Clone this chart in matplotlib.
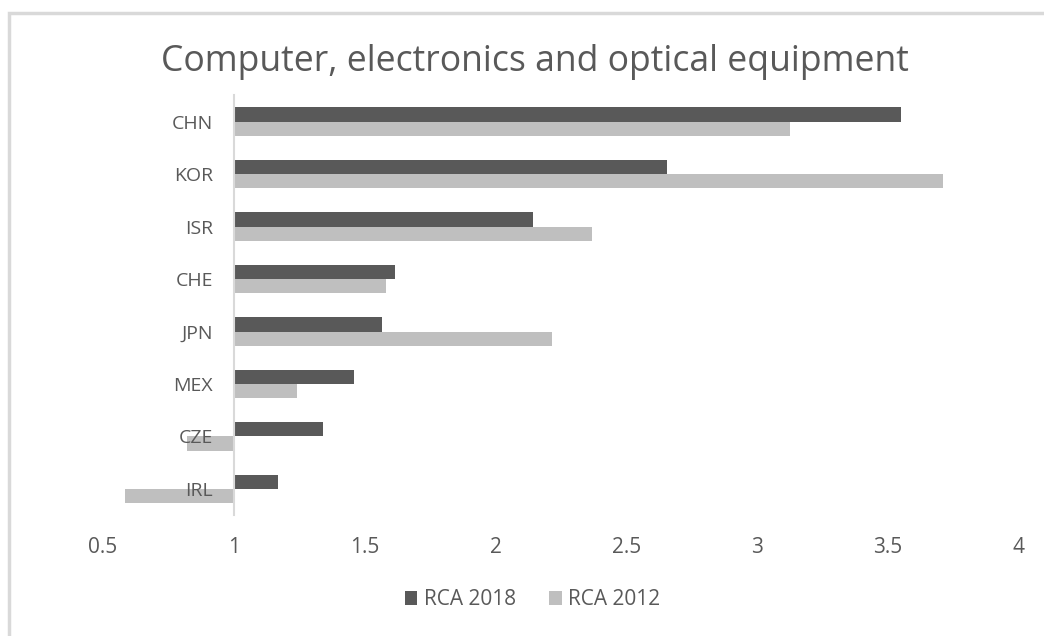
import matplotlib.pyplot as plt
from matplotlib.patches import Rectangle
import numpy as np

# RCA by country, computer/electronics/optical equipment
countries = ['CHN', 'KOR', 'ISR', 'CHE', 'JPN', 'MEX', 'CZE', 'IRL']
rca_2018 = [3.55, 2.655, 2.145, 1.615, 1.565, 1.46, 1.34, 1.17]
rca_2012 = [3.125, 3.71, 2.37, 1.58, 2.215, 1.24, 0.82, 0.585]
xticks = [0.5, 1, 1.5, 2, 2.5, 3, 3.5, 4]

plt.rcParams['font.family'] = ['Open Sans', 'DejaVu Sans']
text_col = '#595959'

fig = plt.figure(figsize=(10.44, 6.36), dpi=100)
ax = fig.add_axes([0.0987, 0.19, 0.877, 0.66])

# chart border (only top/left edge visible)
fig.patches.append(Rectangle((9 / 1044, -0.5), 2, 1 - 13 / 636 + 0.5,
                             transform=fig.transFigure, fill=False,
                             edgecolor='#d9d9d9', linewidth=2.5))

y = np.arange(len(countries))
h = 0.27
base = 1
ax.barh(y - h / 2, np.array(rca_2018) - base, height=h, left=base,
        color='#595959', label='RCA 2018')
ax.barh(y + h / 2, np.array(rca_2012) - base, height=h, left=base,
        color='#bfbfbf', label='RCA 2012')

for s in ['top', 'right', 'bottom']:
    ax.spines[s].set_visible(False)
# vertical axis crosses at 1
ax.spines['left'].set_position(('data', base))
ax.spines['left'].set_color('#d9d9d9')
ax.spines['left'].set_linewidth(1.5)

ax.set_xlim(0.5, 4)
ax.set_ylim(len(countries) - 0.5, -0.5)
ax.set_xticks(xticks)
ax.set_xticklabels([f'{t:g}' for t in xticks])
ax.set_yticks(y)
ax.set_yticklabels(countries)
ax.tick_params(axis='both', length=0, labelcolor=text_col)
ax.tick_params(axis='x', pad=16, labelsize=15)
ax.tick_params(axis='y', pad=15, labelsize=14)

fig.text(0.5125, 0.902, 'Computer, electronics and optical equipment',
         ha='center', va='center', fontsize=25.6, color=text_col)

fig.legend(loc='center', bbox_to_anchor=(0.51, 0.057), ncol=2, frameon=False,
           fontsize=15, labelcolor=text_col, handlelength=0.6, handleheight=0.6,
           handletextpad=0.3, columnspacing=1.6)

fig.savefig('out.png', dpi=100)
